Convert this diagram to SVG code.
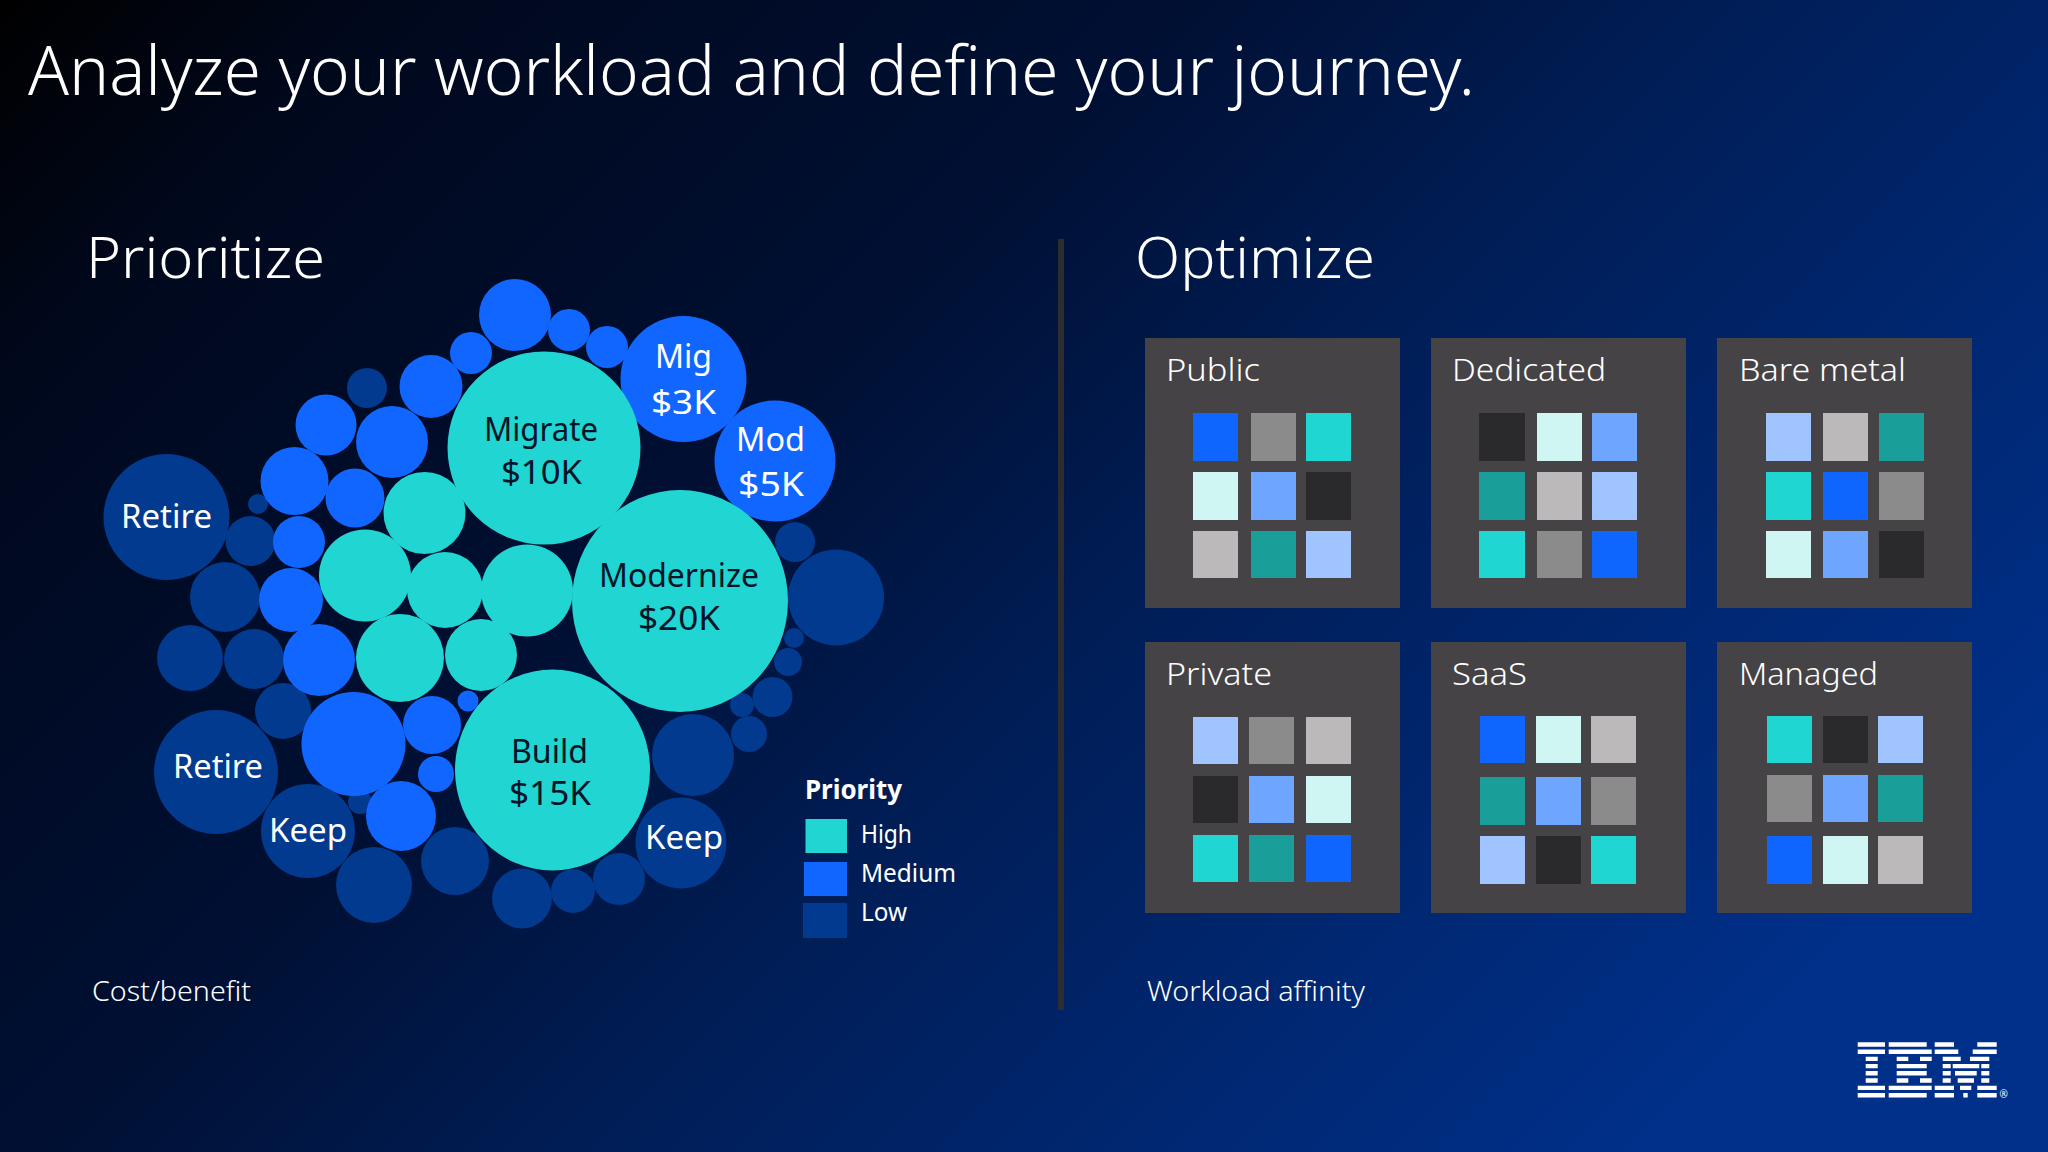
<svg xmlns="http://www.w3.org/2000/svg" width="2048" height="1152" viewBox="0 0 2048 1152">
<defs>
<linearGradient id="bg" gradientUnits="userSpaceOnUse" x1="0" y1="0" x2="1400" y2="1400">
<stop offset="0" stop-color="#000000"/><stop offset="0.14" stop-color="#00081c"/><stop offset="0.43" stop-color="#001034"/><stop offset="0.61" stop-color="#001d55"/><stop offset="1" stop-color="#00308a"/>
</linearGradient>
</defs>
<style>
text{font-family:"Noto Sans","Open Sans","Liberation Sans",sans-serif;fill:#fff}
.h1{font-size:68px;font-weight:300}
.h2{font-size:57px;font-weight:300}
.l{font-size:32px}
.k{fill:#001428}
.t{font-size:32px;font-weight:300}
.s{font-size:27px;font-weight:300}
.lg{font-size:25px}
.tl{fill:#20d5d2}.bl{fill:#1166ff}.dk{fill:#013a8e}
.tile{fill:#454345}
.c1{fill:#0f66ff}.c2{fill:#8c8b8b}.c3{fill:#20d6d3}.c4{fill:#d0f6f3}.c5{fill:#6ea6ff}.c6{fill:#2a2a2c}.c7{fill:#bbb9b9}.c8{fill:#1a9e9a}.c9{fill:#a0c4ff}
</style>
<rect width="2048" height="1152" fill="url(#bg)"/>
<text class="h1" x="28" y="95" textLength="1447" lengthAdjust="spacingAndGlyphs">Analyze your workload and define your journey.</text>
<text class="h2" x="86" y="278" textLength="239" lengthAdjust="spacingAndGlyphs">Prioritize</text>
<text class="h2" x="1135" y="278" textLength="240" lengthAdjust="spacingAndGlyphs">Optimize</text>
<rect x="1058" y="239" width="6" height="771" fill="#2d2d30"/>

<g id="bubbles-low">
<circle class="dk" cx="367" cy="388" r="20"/><circle class="dk" cx="258" cy="504" r="10"/><circle class="dk" cx="250.500" cy="541" r="25"/><circle class="dk" cx="225" cy="597" r="35"/><circle class="dk" cx="190" cy="658" r="33"/><circle class="dk" cx="254" cy="659" r="30"/><circle class="dk" cx="283" cy="711" r="28"/><circle class="dk" cx="360" cy="802" r="12"/><circle class="dk" cx="374" cy="885" r="38"/><circle class="dk" cx="455" cy="861" r="34"/><circle class="dk" cx="522" cy="898.500" r="30"/><circle class="dk" cx="573" cy="891" r="22"/><circle class="dk" cx="619" cy="879" r="26"/><circle class="dk" cx="795" cy="542" r="20"/><circle class="dk" cx="836" cy="597.500" r="48"/><circle class="dk" cx="794" cy="638" r="10"/><circle class="dk" cx="788" cy="662" r="14"/><circle class="dk" cx="772.500" cy="697" r="20"/><circle class="dk" cx="742" cy="705" r="12"/><circle class="dk" cx="749" cy="734" r="18"/><circle class="dk" cx="693" cy="755" r="41"/>
</g>
<g id="bubbles-medium">
<circle class="bl" cx="515" cy="315" r="36"/><circle class="bl" cx="569" cy="330" r="21"/><circle class="bl" cx="607" cy="347" r="21"/><circle class="bl" cx="471" cy="353" r="21"/><circle class="bl" cx="431" cy="386.500" r="31.500"/><circle class="bl" cx="326" cy="425" r="30.500"/><circle class="bl" cx="392" cy="442" r="36"/><circle class="bl" cx="294.500" cy="481" r="34"/><circle class="bl" cx="355" cy="498" r="29.500"/><circle class="bl" cx="299" cy="542" r="26"/><circle class="bl" cx="291" cy="600" r="32"/><circle class="bl" cx="319" cy="660" r="36"/><circle class="bl" cx="353.500" cy="744" r="52"/><circle class="bl" cx="432" cy="725" r="29"/><circle class="bl" cx="468" cy="701" r="10.500"/><circle class="bl" cx="436" cy="774" r="18"/><circle class="bl" cx="401" cy="816" r="35"/>
</g>
<g id="bubbles-high">
<circle class="tl" cx="424.500" cy="513" r="41"/><circle class="tl" cx="365" cy="575.500" r="46"/><circle class="tl" cx="445" cy="590" r="38"/><circle class="tl" cx="527" cy="590.500" r="46"/><circle class="tl" cx="400" cy="658" r="44"/><circle class="tl" cx="481" cy="655" r="36"/>
</g>
<g id="node-retire-1"><circle class="dk" cx="166.500" cy="517" r="63"/><text class="l" x="121" y="528" textLength="91" lengthAdjust="spacingAndGlyphs">Retire</text></g>
<g id="node-retire-2"><circle class="dk" cx="216" cy="772" r="62"/><text class="l" x="173" y="778" textLength="90" lengthAdjust="spacingAndGlyphs">Retire</text></g>
<g id="node-keep-1"><circle class="dk" cx="308" cy="831" r="47"/><text class="l" x="269" y="842" textLength="78" lengthAdjust="spacingAndGlyphs">Keep</text></g>
<g id="node-keep-2"><circle class="dk" cx="681" cy="843" r="45.500"/><text class="l" x="645" y="849" textLength="78" lengthAdjust="spacingAndGlyphs">Keep</text></g>
<g id="node-mig"><circle class="bl" cx="683.500" cy="379" r="63"/><text class="l" x="655" y="368" textLength="57" lengthAdjust="spacingAndGlyphs">Mig</text><text class="l" x="651" y="414" textLength="65" lengthAdjust="spacingAndGlyphs">$3K</text></g>
<g id="node-mod"><circle class="bl" cx="775" cy="461" r="60.500"/><text class="l" x="736" y="451" textLength="69" lengthAdjust="spacingAndGlyphs">Mod</text><text class="l" x="738" y="496" textLength="66" lengthAdjust="spacingAndGlyphs">$5K</text></g>
<g id="node-migrate"><circle class="tl" cx="544" cy="448" r="96.500"/><text class="l k" x="484" y="441" textLength="114" lengthAdjust="spacingAndGlyphs">Migrate</text><text class="l k" x="501" y="484" textLength="81" lengthAdjust="spacingAndGlyphs">$10K</text></g>
<g id="node-modernize"><ellipse class="tl" cx="680" cy="601" rx="108" ry="111"/><text class="l k" x="599" y="587" textLength="160" lengthAdjust="spacingAndGlyphs">Modernize</text><text class="l k" x="638" y="630" textLength="82" lengthAdjust="spacingAndGlyphs">$20K</text></g>
<g id="node-build"><ellipse class="tl" cx="552.500" cy="770" rx="97.500" ry="100.500"/><text class="l k" x="511" y="763" textLength="77" lengthAdjust="spacingAndGlyphs">Build</text><text class="l k" x="509" y="805" textLength="82" lengthAdjust="spacingAndGlyphs">$15K</text></g>

<g id="legend">
<text x="805" y="799" font-size="27" font-weight="700" textLength="97" lengthAdjust="spacingAndGlyphs">Priority</text>
<rect x="805.500" y="819" width="41.500" height="34" class="tl"/><text class="lg" x="861" y="843" textLength="51" lengthAdjust="spacingAndGlyphs">High</text>
<rect x="804" y="862" width="43" height="34" class="bl"/><text class="lg" x="861" y="882" textLength="95" lengthAdjust="spacingAndGlyphs">Medium</text>
<rect x="803" y="903" width="44" height="35" class="dk"/><text class="lg" x="861" y="921" textLength="46" lengthAdjust="spacingAndGlyphs">Low</text>
</g>
<text class="s" x="92" y="1001" textLength="159" lengthAdjust="spacingAndGlyphs">Cost/benefit</text>
<text class="s" x="1147" y="1001" textLength="218" lengthAdjust="spacingAndGlyphs">Workload affinity</text>

<g id="tile-public"><rect class="tile" x="1145" y="338" width="255" height="270"/><text class="t" x="1166" y="381" textLength="94" lengthAdjust="spacingAndGlyphs">Public</text>
<rect class="c1" x="1193" y="413" width="45" height="48"/><rect class="c2" x="1251" y="413" width="45" height="48"/><rect class="c3" x="1306" y="413" width="45" height="48"/>
<rect class="c4" x="1193" y="472" width="45" height="48"/><rect class="c5" x="1251" y="472" width="45" height="48"/><rect class="c6" x="1306" y="472" width="45" height="48"/>
<rect class="c7" x="1193" y="531" width="45" height="47"/><rect class="c8" x="1251" y="531" width="45" height="47"/><rect class="c9" x="1306" y="531" width="45" height="47"/></g>

<g id="tile-dedicated"><rect class="tile" x="1431" y="338" width="255" height="270"/><text class="t" x="1452" y="381" textLength="154" lengthAdjust="spacingAndGlyphs">Dedicated</text>
<rect class="c6" x="1479" y="413" width="46" height="48"/><rect class="c4" x="1537" y="413" width="45" height="48"/><rect class="c5" x="1592" y="413" width="45" height="48"/>
<rect class="c8" x="1479" y="472" width="46" height="48"/><rect class="c7" x="1537" y="472" width="45" height="48"/><rect class="c9" x="1592" y="472" width="45" height="48"/>
<rect class="c3" x="1479" y="531" width="46" height="47"/><rect class="c2" x="1537" y="531" width="45" height="47"/><rect class="c1" x="1592" y="531" width="45" height="47"/></g>

<g id="tile-bare-metal"><rect class="tile" x="1717" y="338" width="255" height="270"/><text class="t" x="1739" y="381" textLength="167" lengthAdjust="spacingAndGlyphs">Bare metal</text>
<rect class="c9" x="1766" y="413" width="45" height="48"/><rect class="c7" x="1823" y="413" width="45" height="48"/><rect class="c8" x="1879" y="413" width="45" height="48"/>
<rect class="c3" x="1766" y="472" width="45" height="48"/><rect class="c1" x="1823" y="472" width="45" height="48"/><rect class="c2" x="1879" y="472" width="45" height="48"/>
<rect class="c4" x="1766" y="531" width="45" height="47"/><rect class="c5" x="1823" y="531" width="45" height="47"/><rect class="c6" x="1879" y="531" width="45" height="47"/></g>

<g id="tile-private"><rect class="tile" x="1145" y="642" width="255" height="271"/><text class="t" x="1166" y="685" textLength="106" lengthAdjust="spacingAndGlyphs">Private</text>
<rect class="c9" x="1193" y="717" width="45" height="47"/><rect class="c2" x="1249" y="717" width="45" height="47"/><rect class="c7" x="1306" y="717" width="45" height="47"/>
<rect class="c6" x="1193" y="776" width="45" height="47"/><rect class="c5" x="1249" y="776" width="45" height="47"/><rect class="c4" x="1306" y="776" width="45" height="47"/>
<rect class="c3" x="1193" y="835" width="45" height="47"/><rect class="c8" x="1249" y="835" width="45" height="47"/><rect class="c1" x="1306" y="835" width="45" height="47"/></g>

<g id="tile-saas"><rect class="tile" x="1431" y="642" width="255" height="271"/><text class="t" x="1452" y="685" textLength="75" lengthAdjust="spacingAndGlyphs">SaaS</text>
<rect class="c1" x="1480" y="716" width="45" height="47"/><rect class="c4" x="1536" y="716" width="45" height="47"/><rect class="c7" x="1591" y="716" width="45" height="47"/>
<rect class="c8" x="1480" y="777" width="45" height="48"/><rect class="c5" x="1536" y="777" width="45" height="48"/><rect class="c2" x="1591" y="777" width="45" height="48"/>
<rect class="c9" x="1480" y="836" width="45" height="48"/><rect class="c6" x="1536" y="836" width="45" height="48"/><rect class="c3" x="1591" y="836" width="45" height="48"/></g>

<g id="tile-managed"><rect class="tile" x="1717" y="642" width="255" height="271"/><text class="t" x="1739" y="685" textLength="139" lengthAdjust="spacingAndGlyphs">Managed</text>
<rect class="c3" x="1767" y="716" width="45" height="47"/><rect class="c6" x="1823" y="716" width="45" height="47"/><rect class="c9" x="1878" y="716" width="45" height="47"/>
<rect class="c2" x="1767" y="775" width="45" height="47"/><rect class="c5" x="1823" y="775" width="45" height="47"/><rect class="c8" x="1878" y="775" width="45" height="47"/>
<rect class="c1" x="1767" y="836" width="45" height="48"/><rect class="c4" x="1823" y="836" width="45" height="48"/><rect class="c7" x="1878" y="836" width="45" height="48"/></g>

<g id="logo">
<path fill="none" stroke="#fff" stroke-width="4.400" d="M1857.700 1044.500H1885M1888.700 1044.500H1926.700M1934.700 1044.500H1954M1977.300 1044.500H1996.700M1857.700 1051.700H1885M1888.700 1051.700H1931.700M1934.700 1051.700H1958.300M1972.700 1051.700H1996.700M1865.700 1058.900H1877.700M1896.700 1058.900H1908.300M1920 1058.900H1931.700M1942.700 1058.900H1960.700M1970 1058.900H1989.300M1865.700 1066.100H1877.700M1896.700 1066.100H1926.700M1942.700 1066.100H1950.700M1952.700 1066.100H1979.300M1981.300 1066.100H1989.300M1865.700 1073.300H1877.700M1896.700 1073.300H1926.700M1942.700 1073.300H1950.700M1955 1073.300H1976.700M1981.300 1073.300H1989.300M1865.700 1080.500H1877.700M1896.700 1080.500H1908.300M1920 1080.500H1931.700M1942.700 1080.500H1950.700M1957.700 1080.500H1974M1981.300 1080.500H1989.300M1857.700 1087.900H1885M1888.700 1087.900H1931.700M1934.700 1087.900H1954M1960 1087.900H1971.300M1977.300 1087.900H1996.700M1857.700 1095.200H1885M1888.700 1095.200H1926.700M1934.700 1095.200H1954M1963.300 1095.200H1967.700M1977.300 1095.200H1996.700"/>
<text x="1999.500" y="1098" font-size="10" fill="#fff">®</text>
</g>
</svg>
